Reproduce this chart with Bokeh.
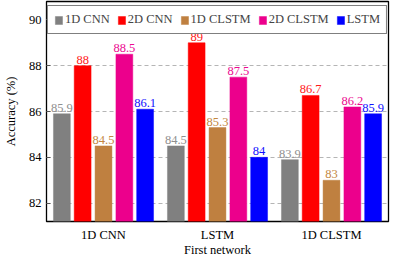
from bokeh.plotting import figure
from bokeh.models import FactorRange, Range1d, ColumnDataSource, Legend, LegendItem, FixedTicker
from bokeh.transform import dodge
from bokeh.embed import file_html
from bokeh.resources import INLINE

groups = ["1D CNN", "LSTM", "1D CLSTM"]
series = ["1D CNN", "2D CNN", "1D CLSTM", "2D CLSTM", "LSTM"]
v_1dcnn = [85.9, 84.5, 83.9]
v_2dcnn = [88.0, 89.0, 86.7]
v_1dclstm = [84.5, 85.3, 83.0]
v_2dclstm = [88.5, 87.5, 86.2]
v_lstm = [86.1, 84.0, 85.9]
y_ticks = [82, 84, 86, 88, 90]
x_title = "First network"
y_title = "Accuracy (%)"

values = [v_1dcnn, v_2dcnn, v_1dclstm, v_2dclstm, v_lstm]
fill_colors = ["#808080", "#ff0000", "#bf8040", "#ec008c", "#0000ff"]
text_colors = ["#8f8f8f", "#ff1a1a", "#c4873f", "#ec0a90", "#1010ff"]
offsets = [-0.365, -0.183, 0.0, 0.183, 0.365]
FONT = "Liberation Serif"
Y0, Y1 = 81.2, 90.8

p = figure(x_range=FactorRange(factors=groups, range_padding=0),
           y_range=Range1d(Y0, Y1),
           width=397, height=259,
           output_backend="svg", toolbar_location=None,
           min_border_left=10, min_border_right=9, min_border_top=1, min_border_bottom=0)

items = []
for vals, fc, tc, off, name in zip(values, fill_colors, text_colors, offsets, series):
    src = ColumnDataSource(dict(x=groups, top=vals, lab=[f"{v:g}" for v in vals]))
    r = p.vbar(x=dodge("x", off, range=p.x_range), top="top", bottom=80, width=0.148,
               source=src, fill_color=fc, line_color=fc, line_alpha=0.45, line_width=1)
    p.text(x=dodge("x", off, range=p.x_range), y="top", text="lab", source=src,
           text_color=tc, text_font={"value": FONT}, text_font_size="12.5px",
           text_align="center", text_baseline="bottom", y_offset=-2)
    items.append(LegendItem(label=name, renderers=[r]))

legend = Legend(items=items, orientation="horizontal", location="top_center",
                border_line_color="black", border_line_width=1,
                padding=6, spacing=7, margin=4,
                label_text_font=FONT, label_text_font_size="12.5px",
                glyph_width=9, glyph_height=10, label_standoff=2,
                label_height=12, background_fill_alpha=1)
p.add_layout(legend)

p.outline_line_color = "black"
p.outline_line_width = 1.3
p.xgrid.grid_line_color = None
p.ygrid.grid_line_color = "#b5b5b5"
p.ygrid.grid_line_dash = "4 3"
p.yaxis.ticker = FixedTicker(ticks=y_ticks)

for ax in (p.xaxis, p.yaxis):
    ax.axis_line_color = None
    ax.major_label_text_font = FONT
    ax.major_label_text_font_size = "12.5px"
    ax.major_label_text_color = "black"
    ax.axis_label_text_font = FONT
    ax.axis_label_text_font_size = "12.5px"
    ax.axis_label_text_font_style = "normal"
    ax.axis_label_text_color = "black"
    ax.minor_tick_line_color = None
    ax.minor_tick_out = 0
    ax.minor_tick_in = 0

p.yaxis.axis_label = y_title
p.yaxis.major_tick_in = 4
p.yaxis.major_tick_out = 0
p.yaxis.major_tick_line_color = "#555555"
p.yaxis.major_label_standoff = 5
p.yaxis.axis_label_standoff = 8

p.xaxis.axis_label = x_title
p.xaxis.major_tick_line_color = None
p.xaxis.major_tick_out = 0
p.xaxis.major_tick_in = 0
p.xaxis.major_label_standoff = 6
p.xaxis.axis_label_standoff = -2

open("out.html", "w").write(file_html(p, INLINE))
